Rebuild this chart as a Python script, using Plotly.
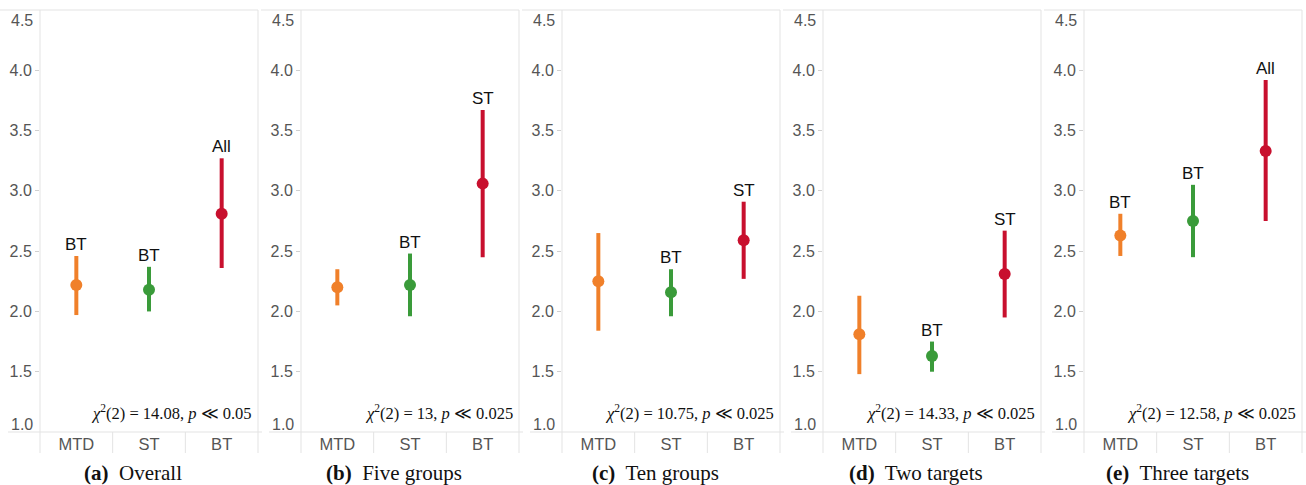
import plotly.graph_objects as go

W, H = 1306, 485

categories = ["MTD", "ST", "BT"]
panel_titles = ["Overall", "Five groups", "Ten groups", "Two targets", "Three targets"]
panel_letters = ["a", "b", "c", "d", "e"]

means_a = [2.22, 2.18, 2.81]
means_b = [2.20, 2.22, 3.06]
means_c = [2.25, 2.16, 2.59]
means_d = [1.81, 1.63, 2.31]
means_e = [2.63, 2.75, 3.33]

low_a = [1.97, 2.00, 2.36]
low_b = [2.05, 1.96, 2.45]
low_c = [1.84, 1.96, 2.27]
low_d = [1.48, 1.50, 1.95]
low_e = [2.46, 2.45, 2.75]

high_a = [2.46, 2.37, 3.27]
high_b = [2.35, 2.48, 3.67]
high_c = [2.65, 2.35, 2.91]
high_d = [2.13, 1.75, 2.67]
high_e = [2.81, 3.05, 3.92]

sig_a = ["BT", "BT", "All"]
sig_b = ["", "BT", "ST"]
sig_c = ["", "BT", "ST"]
sig_d = ["", "BT", "ST"]
sig_e = ["BT", "BT", "All"]

chi_values = ["14.08", "13", "10.75", "14.33", "12.58"]
p_values = ["0.05", "0.025", "0.025", "0.025", "0.025"]

ytick_vals = [1.5, 2.0, 2.5, 3.0, 3.5, 4.0]
edge_ticks = [(1.0, "1.0", 8), (4.5, "4.5", -10)]  # (value, label, vertical nudge px)

colors = ["#F0802A", "#3A9B3A", "#C8102E"]

means = [means_a, means_b, means_c, means_d, means_e]
lows = [low_a, low_b, low_c, low_d, low_e]
highs = [high_a, high_b, high_c, high_d, high_e]
sigs = [sig_a, sig_b, sig_c, sig_d, sig_e]

# layout geometry (pixels)
T, B = 10, 53
plot_h = H - T - B
lefts = [40, 301, 562, 823, 1084]
pw = 218
band = 21 / plot_h  # category band below axis, in paper units

fig = go.Figure()
layout = dict(
    width=W, height=H,
    margin=dict(l=0, r=0, t=T, b=B),
    paper_bgcolor="white", plot_bgcolor="white",
    showlegend=False,
    font=dict(family="Liberation Sans, Arial, sans-serif"),
)
shapes = []
annotations = []
line_col = "#E3E3E3"
tick_font = dict(size=16, color="#555555", family="Liberation Sans, Arial, sans-serif")

for i in range(5):
    sfx = "" if i == 0 else str(i + 1)
    xa, ya = "x" + sfx, "y" + sfx
    L = lefts[i]
    R = L + pw
    layout["xaxis" + sfx] = dict(
        domain=[L / W, R / W], type="category", categoryorder="array",
        categoryarray=categories, range=[-0.5, 2.5],
        showgrid=False, zeroline=False, showline=False, ticks="",
        tickfont=dict(size=16.5, color="#555555"), anchor=ya, fixedrange=True,
    )
    layout["yaxis" + sfx] = dict(
        domain=[0, 1], range=[1.0, 4.5], tickvals=ytick_vals, tickformat=".1f",
        showgrid=False, zeroline=False, showline=False,
        ticks="outside", ticklen=4, tickcolor="#D0D0D0",
        tickfont=tick_font, anchor=xa, fixedrange=True,
    )
    for val, lab, nudge in edge_ticks:
        annotations.append(dict(
            x=(L - 5) / W, y=val, xref="paper", yref=ya, text=lab, showarrow=False,
            xanchor="right", yanchor="middle", yshift=nudge, font=tick_font,
        ))
    for j, cat in enumerate(categories):
        m = means[i][j]
        fig.add_trace(go.Scatter(
            x=[cat], y=[m], mode="markers",
            marker=dict(size=12, color=colors[j]),
            error_y=dict(type="data", symmetric=False,
                         array=[highs[i][j] - m], arrayminus=[m - lows[i][j]],
                         color=colors[j], thickness=4, width=0),
            xaxis=xa, yaxis=ya, hoverinfo="skip",
        ))
        if sigs[i][j]:
            annotations.append(dict(
                x=cat, y=highs[i][j], xref=xa, yref=ya, text=sigs[i][j],
                showarrow=False, yanchor="bottom", yshift=0,
                font=dict(size=17, color="#111111", family="Liberation Sans, Arial, sans-serif"),
            ))
    # frame lines
    shapes += [
        dict(type="line", xref="paper", yref="paper", x0=max(L - 40, 0) / W, x1=R / W, y0=1, y1=1,
             line=dict(color=line_col, width=1)),
        dict(type="line", xref="paper", yref="paper", x0=(L - 32) / W, x1=(R + 4) / W, y0=0, y1=0,
             line=dict(color=line_col, width=1)),
        dict(type="line", xref="paper", yref="paper", x0=L / W, x1=L / W, y0=-band, y1=1,
             line=dict(color=line_col, width=1)),
        dict(type="line", xref="paper", yref="paper", x0=R / W, x1=R / W, y0=-band, y1=1,
             line=dict(color=line_col, width=1)),
    ]
    for k in (1, 2):
        shapes.append(dict(type="line", xref=xa + " domain", yref="paper",
                           x0=k / 3, x1=k / 3, y0=-band, y1=0,
                           line=dict(color=line_col, width=1)))
    # statistics text
    annotations.append(dict(
        x=1, y=0.047, xref=xa + " domain", yref="paper", xanchor="right", yanchor="middle",
        xshift=-4, showarrow=False,
        text="<i>χ</i><sup>2</sup>(2) = " + chi_values[i] + ", <i>p</i> ≪ " + p_values[i],
        font=dict(size=16.5, color="#111111", family="Liberation Serif, Times New Roman, serif"),
    ))
    # caption
    annotations.append(dict(
        x=((L - 32) + R) / 2 / W, y=-(473 - (H - B)) / plot_h, xref="paper", yref="paper",
        xanchor="center", yanchor="middle", showarrow=False,
        text="<b>(" + panel_letters[i] + ")</b>  " + panel_titles[i],
        font=dict(size=21, color="#111111", family="Liberation Serif, Times New Roman, serif"),
    ))

layout["shapes"] = shapes
layout["annotations"] = annotations
fig.update_layout(**layout)
fig.write_html("out.html", config={"displayModeBar": False},
               post_script="document.body.style.margin='0';document.body.style.overflow='hidden';")
